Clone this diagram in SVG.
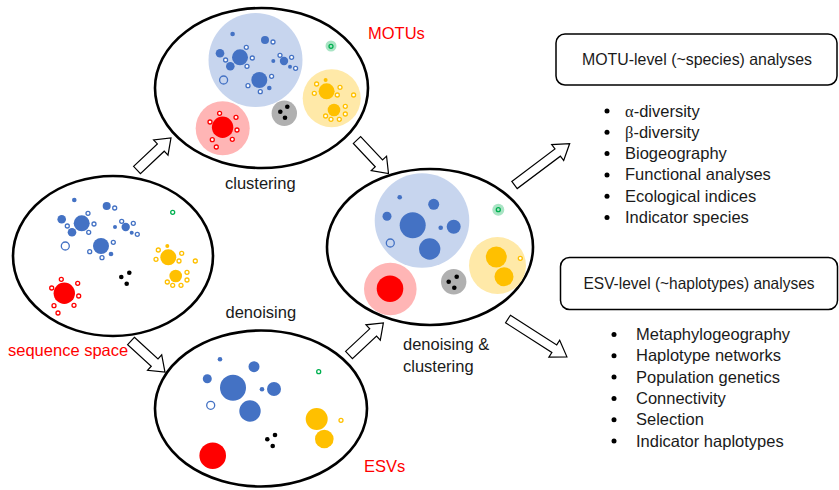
<svg xmlns="http://www.w3.org/2000/svg" xmlns:xlink="http://www.w3.org/1999/xlink" width="839" height="490" viewBox="0 0 839 490">
<style>
.ell{fill:#fff;stroke:#000;stroke-width:2.6}
.b{fill:#4472C4}
.rb{fill:#fff;stroke:#4472C4;stroke-width:1.3}
.rbo{fill:none;stroke:#4472C4;stroke-width:1.3}
.y{fill:#FFC000}
.ry{fill:#fff;stroke:#FFC000;stroke-width:1.3}
.r{fill:#FF0000}
.rr{fill:#fff;stroke:#FF0000;stroke-width:1.3}
.rg{fill:none;stroke:#00B050;stroke-width:1.3}
.k{fill:#000}
.lb{fill:#C7D5EE}
.ly{fill:#FFE9A8}
.lr{fill:#FFB5B5}
.lg{fill:#A9E4C4}
.gr{fill:#B0B0B0}
.arr{fill:#fff;stroke:#000;stroke-width:1.2;stroke-linejoin:miter}
.t{font-family:"Liberation Sans",Arial,sans-serif;font-size:16.5px;fill:#1a1a1a}
.red{fill:#FF0000}
.box{fill:#fff;stroke:#000;stroke-width:1.5}
.gk{font-family:"Liberation Serif","Times New Roman",serif}
</style>
<defs>
<g id="pts">
<circle class="b" cx="74.3" cy="200" r="2.3"/>
<circle class="b" cx="106.7" cy="206" r="4"/>
<circle class="rb" cx="114.7" cy="208" r="2"/>
<circle class="b" cx="61.7" cy="219.3" r="4.3"/>
<circle class="b" cx="81.7" cy="223.3" r="8"/>
<circle class="rb" cx="88" cy="213.3" r="2"/>
<circle class="rb" cx="67.3" cy="226" r="2"/>
<circle class="rb" cx="94" cy="224" r="2"/>
<circle class="b" cx="72" cy="232.3" r="4.3"/>
<circle class="rb" cx="88.7" cy="232.3" r="2"/>
<circle class="rb" cx="121.7" cy="221.3" r="2"/>
<circle class="rb" cx="133.3" cy="223.3" r="2"/>
<circle class="b" cx="125.7" cy="227" r="4.2"/>
<circle class="b" cx="115" cy="227" r="2"/>
<circle class="b" cx="131.7" cy="232.7" r="2"/>
<circle class="rb" cx="137.3" cy="234.3" r="2"/>
<circle class="rbo" cx="65.3" cy="246" r="4"/>
<circle class="b" cx="101" cy="246" r="8"/>
<circle class="rb" cx="113.3" cy="242.3" r="2"/>
<circle class="rb" cx="89.7" cy="251.7" r="2"/>
<circle class="rb" cx="102" cy="257.7" r="2"/>
<circle class="b" cx="111" cy="254" r="2.3"/>
<circle class="rg" cx="172.7" cy="212.3" r="2"/>
<circle class="y" cx="167.3" cy="246" r="2"/>
<circle class="y" cx="168.3" cy="257.3" r="8"/>
<circle class="ry" cx="158.3" cy="250" r="2"/>
<circle class="ry" cx="181.7" cy="253.3" r="2"/>
<circle class="ry" cx="156" cy="259.3" r="2"/>
<circle class="ry" cx="179" cy="261" r="2"/>
<circle class="ry" cx="195.3" cy="261" r="2"/>
<circle class="y" cx="175.7" cy="276" r="6.3"/>
<circle class="ry" cx="187" cy="272.3" r="2"/>
<circle class="ry" cx="187" cy="280" r="2"/>
<circle class="ry" cx="167.3" cy="282" r="2"/>
<circle class="ry" cx="172.7" cy="285.3" r="2"/>
<circle class="ry" cx="181" cy="285.3" r="2"/>
<circle class="r" cx="64.3" cy="293.3" r="10.7"/>
<circle class="rr" cx="61.3" cy="279.3" r="2"/>
<circle class="rr" cx="51.7" cy="288" r="2"/>
<circle class="rr" cx="77.7" cy="283.3" r="2"/>
<circle class="rr" cx="78.7" cy="296" r="2"/>
<circle class="rr" cx="54" cy="305.7" r="2"/>
<circle class="rr" cx="74" cy="305.3" r="2"/>
<circle class="rr" cx="58" cy="313" r="2"/>
</g>
</defs>
<rect width="839" height="490" fill="#fff"/>

<g id="connectors">
<polygon class="arr" transform="translate(137,170) rotate(-43.3)" points="0,-5 32.7,-5 32.7,-10.5 46.7,0 32.7,10.5 32.7,5 0,5"/>
<polygon class="arr" transform="translate(131,341) rotate(42.4)" points="0,-5 32,-5 32,-10.5 46,0 32,10.5 32,5 0,5"/>
<polygon class="arr" transform="translate(357,140) rotate(46.8)" points="0,-5 32,-5 32,-10.5 46,0 32,10.5 32,5 0,5"/>
<polygon class="arr" transform="translate(349,355) rotate(-43)" points="0,-5 33,-5 33,-10.5 47,0 33,10.5 33,5 0,5"/>
<polygon class="arr" transform="translate(514.5,185) rotate(-36.9)" points="0,-4.5 54,-4.5 54,-10 69,0 54,10 54,4.5 0,4.5"/>
<polygon class="arr" transform="translate(508,319) rotate(32.7)" points="0,-4.5 55,-4.5 55,-10 70,0 55,10 55,4.5 0,4.5"/>
</g>

<g id="node-sequence-space">
<ellipse class="ell" cx="113" cy="256" rx="100" ry="80"/>
<use xlink:href="#pts" href="#pts"/>
<circle class="k" cx="129.3" cy="272.7" r="2.3"/>
<circle class="k" cx="121.3" cy="277" r="2.3"/>
<circle class="k" cx="126.7" cy="283.7" r="2.3"/>
<text class="t red" x="8" y="356">sequence space</text>
</g>

<g id="node-motus">
<ellipse class="ell" cx="261.5" cy="88" rx="106.5" ry="80"/>
<circle class="lb" cx="255.5" cy="60" r="47"/>
<circle class="ly" cx="331.7" cy="98.3" r="29"/>
<circle class="lr" cx="222.7" cy="128.3" r="27"/>
<circle class="lg" cx="331" cy="46" r="5.5"/>
<circle class="gr" cx="284.3" cy="113.3" r="12.7"/>
<use xlink:href="#pts" href="#pts" transform="translate(158.3,-166)"/>
<circle class="k" cx="280.3" cy="111.7" r="2.3"/>
<circle class="k" cx="287.3" cy="106.7" r="2.3"/>
<circle class="k" cx="285" cy="117.7" r="2.3"/>
<text class="t red" x="368" y="39">MOTUs</text>
<text class="t" x="225" y="189">clustering</text>
</g>

<g id="node-esvs">
<ellipse class="ell" cx="261" cy="408.5" rx="106" ry="78"/>
<circle class="b" cx="220" cy="359.3" r="2.3"/>
<circle class="b" cx="254" cy="366.7" r="5.5"/>
<circle class="b" cx="207.3" cy="378.7" r="4.5"/>
<circle class="b" cx="233" cy="387.7" r="13"/>
<circle class="b" cx="262" cy="389.3" r="2.3"/>
<circle class="b" cx="274" cy="389" r="7"/>
<circle class="rb" cx="210.7" cy="405.3" r="4"/>
<circle class="b" cx="250" cy="411" r="10.7"/>
<circle class="rg" cx="318.7" cy="371.7" r="2"/>
<circle class="y" cx="316.7" cy="419" r="11"/>
<circle class="y" cx="324.3" cy="439" r="9.3"/>
<circle class="ry" cx="341" cy="420.3" r="2"/>
<circle class="k" cx="267.3" cy="439.3" r="2.3"/>
<circle class="k" cx="275" cy="435" r="2.3"/>
<circle class="k" cx="272.7" cy="446" r="2.3"/>
<circle class="r" cx="212.7" cy="455.7" r="13.3"/>
<text class="t" x="225.5" y="318">denoising</text>
<text class="t red" x="364" y="472">ESVs</text>
</g>

<g id="node-denoising-clustering">
<ellipse class="ell" cx="430" cy="247" rx="103" ry="78"/>
<circle class="lb" cx="422" cy="220.5" r="47.3"/>
<circle class="ly" cx="497.5" cy="265.5" r="28.5"/>
<circle class="lr" cx="390.3" cy="289" r="26.3"/>
<circle class="lg" cx="498.3" cy="209.7" r="6"/>
<circle class="gr" cx="453.7" cy="281.7" r="12.7"/>
<circle class="b" cx="399.7" cy="197.3" r="2.3"/>
<circle class="b" cx="433.7" cy="204.3" r="5.5"/>
<circle class="b" cx="387" cy="216.3" r="4.5"/>
<circle class="b" cx="412.7" cy="225.3" r="13"/>
<circle class="b" cx="440.7" cy="227.7" r="2.3"/>
<circle class="b" cx="453.7" cy="226.7" r="7"/>
<circle class="rbo" cx="390.3" cy="243" r="4"/>
<circle class="b" cx="429.7" cy="249" r="10.7"/>
<circle class="rg" cx="498.3" cy="209.7" r="2"/>
<circle class="y" cx="496.3" cy="257" r="10.5"/>
<circle class="y" cx="504" cy="276.7" r="9.5"/>
<circle class="ry" cx="520.3" cy="258.3" r="2"/>
<circle class="r" cx="390" cy="288.7" r="13.3"/>
<circle class="k" cx="448.7" cy="281.7" r="2.3"/>
<circle class="k" cx="456.7" cy="276.7" r="2.3"/>
<circle class="k" cx="454.3" cy="287.7" r="2.3"/>
<text class="t" x="403" y="350">denoising &amp;</text>
<text class="t" x="403" y="371.5">clustering</text>
</g>

<g id="node-motu-analyses">
<rect class="box" x="556" y="34" width="281" height="51" rx="9"/>
<text class="t" x="582" y="65" textLength="230" lengthAdjust="spacingAndGlyphs">MOTU-level (~species) analyses</text>
<g class="k">
<circle cx="607" cy="111" r="2.5"/>
<circle cx="607" cy="132.3" r="2.5"/>
<circle cx="607" cy="153.6" r="2.5"/>
<circle cx="607" cy="174.9" r="2.5"/>
<circle cx="607" cy="196.2" r="2.5"/>
<circle cx="607" cy="217.5" r="2.5"/>
</g>
<text class="t" x="625" y="116.5"><tspan class="gk">α</tspan>-diversity</text>
<text class="t" x="625" y="137.8"><tspan class="gk">β</tspan>-diversity</text>
<text class="t" x="625" y="159.1">Biogeography</text>
<text class="t" x="625" y="180.4">Functional analyses</text>
<text class="t" x="625" y="201.7">Ecological indices</text>
<text class="t" x="625" y="223">Indicator species</text>
</g>

<g id="node-esv-analyses">
<rect class="box" x="560.5" y="257.5" width="277" height="52" rx="9"/>
<text class="t" x="583.5" y="288.5" textLength="231" lengthAdjust="spacingAndGlyphs">ESV-level (~haplotypes) analyses</text>
<g class="k">
<circle cx="614" cy="334.5" r="2.5"/>
<circle cx="614" cy="355.8" r="2.5"/>
<circle cx="614" cy="377.1" r="2.5"/>
<circle cx="614" cy="398.4" r="2.5"/>
<circle cx="614" cy="419.7" r="2.5"/>
<circle cx="614" cy="441" r="2.5"/>
</g>
<text class="t" x="636" y="340">Metaphylogeography</text>
<text class="t" x="636" y="361.3">Haplotype networks</text>
<text class="t" x="636" y="382.6">Population genetics</text>
<text class="t" x="636" y="403.9">Connectivity</text>
<text class="t" x="636" y="425.2">Selection</text>
<text class="t" x="636" y="446.5">Indicator haplotypes</text>
</g>
</svg>
